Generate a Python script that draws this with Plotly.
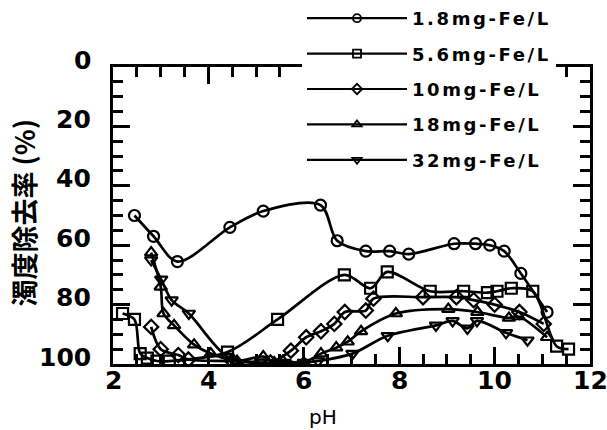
import plotly.graph_objects as go

# ---- data ----
series_names = ["1.8mg-Fe/L", "5.6mg-Fe/L", "10mg-Fe/L", "18mg-Fe/L", "32mg-Fe/L"]
series_symbols = ["circle-open", "square-open", "diamond-open", "triangle-up-open", "triangle-down-open"]

ph_18 = [2.45, 2.85, 3.35, 4.45, 5.15, 6.35, 6.7, 7.3, 7.8, 8.2, 9.15, 9.6, 9.9, 10.2, 10.55, 11.1]
rm_18 = [50, 57, 65.5, 54, 48.5, 46.5, 58.5, 62, 62, 63, 59.5, 59.5, 60, 62, 69.5, 82.5]

ph_56 = [2.2, 2.45, 2.57, 2.72, 2.92, 3.18, 4.4, 5.45, 6.85, 7.4, 7.75, 8.65, 9.35, 9.85, 10.05, 10.35, 10.8, 11.3, 11.55]
rm_56 = [83, 85, 96.5, 98, 99, 99, 96, 85, 70, 74.5, 69, 75.5, 75.5, 76, 75.5, 74.5, 75.5, 94, 95]

ph_10 = [2.8, 3.0, 3.37, 3.58, 4.5, 5.3, 5.73, 6.05, 6.36, 6.64, 6.86, 7.3, 7.46, 8.5, 9.2, 9.56, 10.0, 10.52, 11.03]
rm_10 = [87.5, 95, 97, 98.5, 99, 99.5, 95.5, 91, 89, 86.5, 82.5, 82, 78, 77.5, 77.5, 78.5, 80, 82.5, 86.5]

ph_180 = [2.8, 3.0, 3.06, 3.28, 3.7, 4.05, 4.6, 5.15, 5.38, 5.56, 6.0, 6.36, 6.68, 6.92, 7.2, 7.93, 9.03, 9.64, 10.3, 10.5, 11.1]
rm_180 = [62.5, 74, 83, 87, 93.5, 96.5, 99, 97.5, 99.5, 99, 99.5, 96.5, 94.5, 92.5, 89, 83, 81.5, 82.5, 84.5, 84, 91]

ph_32 = [2.8, 3.01, 3.23, 3.59, 4.4, 5.1, 5.6, 6.0, 6.3, 7.02, 7.76, 8.77, 9.12, 9.43, 9.63, 10.24, 10.69]
rm_32 = [65, 71.5, 78.5, 83, 97.5, 99.5, 99.5, 99.5, 99, 96.5, 90.5, 87, 85.5, 88, 85.5, 89.5, 92]

x_ticks = [2, 4, 6, 8, 10, 12]
y_ticks = [0, 20, 40, 60, 80, 100]
x_title = "pH"
y_title = "濁度除去率 (%)"

series_x = [ph_18, ph_56, ph_10, ph_180, ph_32]
series_y = [rm_18, rm_56, rm_10, rm_180, rm_32]

fig = go.Figure()

for xs, ys, sym in zip(series_x, series_y, series_symbols):
    fig.add_trace(go.Scatter(
        x=xs, y=ys, mode="lines+markers", showlegend=False,
        line=dict(color="black", width=2.7, shape="spline", smoothing=0.9),
        marker=dict(symbol=sym, size=11, color="black", line=dict(width=2.2, color="black")),
    ))

# legend-only entries (smaller symbols, as in the reference legend)
for i, (name, sym) in enumerate(zip(series_names, series_symbols)):
    fig.add_trace(go.Scatter(
        x=[None], y=[None], mode="lines+markers",
        name=f"<span style='letter-spacing:2.6px'><b>{name}</b></span>",
        legendgroup=f"g{i}", showlegend=True,
        line=dict(color="black", width=2.2),
        marker=dict(symbol=sym, size=8, color="black", line=dict(width=1.8, color="black")),
    ))

tickfont = dict(family="DejaVu Sans", size=25, color="black")

fig.update_layout(
    width=607, height=430,
    margin=dict(l=113, r=17, t=67, b=66, autoexpand=False),
    paper_bgcolor="white", plot_bgcolor="white",
    font=dict(family="DejaVu Sans", color="black"),
    xaxis=dict(
        range=[2, 12], tickvals=x_ticks, showticklabels=False,
        ticks="inside", ticklen=17, tickwidth=2.5, tickcolor="black",
        minor=dict(dtick=0.5, ticks="inside", ticklen=10, tickwidth=2.5, tickcolor="black"),
        showline=True, linewidth=3, linecolor="black", mirror="ticks",
        showgrid=False, zeroline=False,
    ),
    yaxis=dict(
        range=[100, 0], tickvals=y_ticks, showticklabels=False,
        ticks="inside", ticklen=17, tickwidth=2.5, tickcolor="black",
        minor=dict(dtick=5, ticks="inside", ticklen=10, tickwidth=2.5, tickcolor="black"),
        showline=True, linewidth=3, linecolor="black", mirror="ticks",
        showgrid=False, zeroline=False,
    ),
    legend=dict(
        xref="container", yref="container",
        x=302 / 607, y=1.0 + 4 / 430, xanchor="left", yanchor="top",
        bgcolor="white", borderwidth=0, itemwidth=100,
        tracegroupgap=9, font=dict(family="DejaVu Sans", size=18, color="black"),
        traceorder="grouped",
    ),
)

annotations = []
for v in y_ticks:
    annotations.append(dict(
        x=0, xref="paper", y=v, yref="y", xanchor="right", yanchor="middle",
        xshift=-20, yshift=7, showarrow=False, text=f"<b>{v}</b>", font=tickfont,
    ))
for v in x_ticks:
    annotations.append(dict(
        x=v, xref="x", y=0, yref="paper", xanchor="center", yanchor="middle",
        yshift=-16, showarrow=False, text=f"<b>{v}</b>", font=tickfont,
    ))
annotations.append(dict(
    x=0.44, xref="paper", y=0, yref="paper", yshift=-53, xanchor="center", yanchor="middle",
    showarrow=False, text=x_title, font=dict(family="DejaVu Sans", size=20, color="black"),
))
annotations.append(dict(
    x=0, xref="paper", xshift=-89, y=0.51, yref="paper", xanchor="center", yanchor="middle",
    showarrow=False, text=f"<b>{y_title}</b>", textangle=-90,
    font=dict(family="Noto Sans CJK JP", size=27, color="black"),
))
fig.update_layout(annotations=annotations)

fig.write_html("out.html", config={"displayModeBar": False},
               post_script="document.body.style.margin='0';")
